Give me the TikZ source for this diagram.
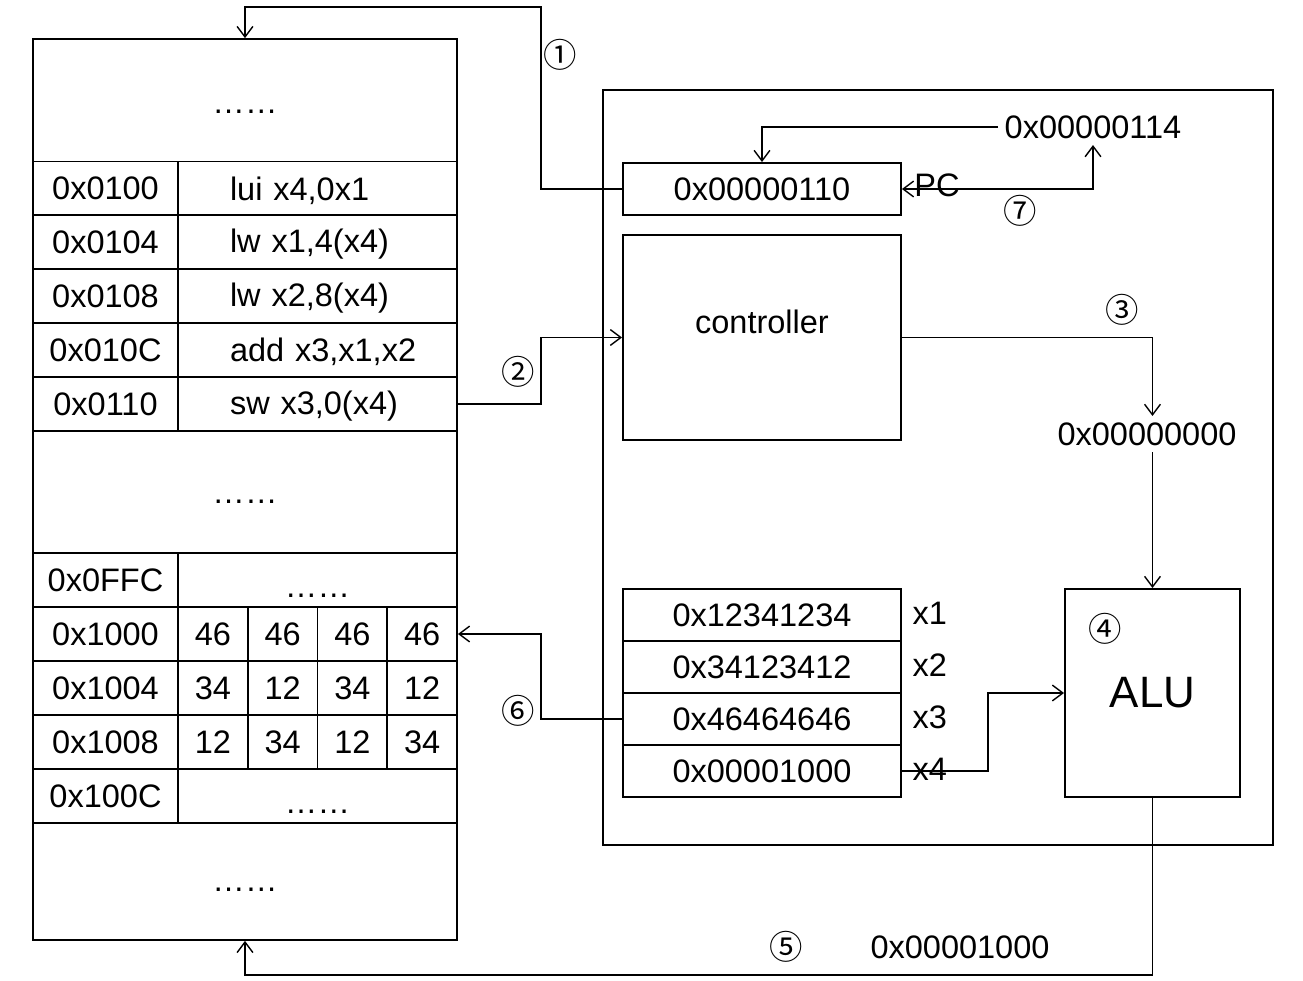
\documentclass[tikz,border=0pt]{standalone}
\usepackage{fontspec}
\setmainfont{Liberation Sans}
\newfontfamily\circfont{Noto Sans CJK SC}
\usepackage{tikz}
\usetikzlibrary{arrows.meta}

\begin{document}
\begin{tikzpicture}
  [x=0.02cm,y=-0.02cm,line width=0.8pt,>={Straight Barb[length=6pt,width=9pt]},
   every node/.style={font=\fontsize{18.5}{22}\selectfont},
   cell/.style={draw,line width=1.1pt,inner sep=0pt,minimum height=1.08cm},
   reg/.style={draw,line width=1.1pt,inner sep=0pt,minimum width=5.56cm,minimum height=1.04cm},
   num/.style={font=\circfont\fontsize{19}{22}\selectfont,inner sep=1pt}]

  \useasboundingbox (0,0) rectangle (1303,981);

  \node[draw,line width=1.1pt,minimum width=8.48cm,minimum height=18.02cm] (mem) at (245,489.5) {};
  \node (dots1) at (245,112) {……};
  \node (dots2) at (245,502) {……};
  \node (dots3) at (245,890) {……};
  \foreach \y/\addr/\ins [count=\i] in {188.5/0x0100/{lui x4,0x1},242/0x0104/{lw x1,4(x4)},296/0x0108/{lw x2,8(x4)},350/0x010C/{add x3,x1,x2},404/0x0110/{sw x3,0(x4)}}
  {
    \node[cell,minimum width=2.9cm] (a\i) at (105.5,\y) {\addr};
    \node[cell,minimum width=5.58cm,text width=4.1cm,text height=0.55cm] (c\i) at (317.5,\y) {\hspace*{0.3cm}\ins};
  }
  \node[cell,minimum width=2.9cm] (a6) at (105.5,580) {0x0FFC};
  \node[cell,minimum width=5.58cm,text height=0.68cm,text depth=0pt] (c6) at (317.5,580) {……};
  \foreach \y/\addr/\bytes [count=\i] in {634/0x1000/{46,46,46,46},688/0x1004/{34,12,34,12},742/0x1008/{12,34,12,34}}
  {
    \node[cell,minimum width=2.9cm] (m\i) at (105.5,\y) {\addr};
    \foreach \b [count=\j] in \bytes
      \node[cell,minimum width=1.395cm] (d\i\j) at (143.125+69.75*\j,\y) {\b};
  }
  \node[cell,minimum width=2.9cm] (a7) at (105.5,796) {0x100C};
  \node[cell,minimum width=5.58cm,text height=0.68cm,text depth=0pt] (c7) at (317.5,796) {……};

  \node[draw,line width=1.1pt,minimum width=13.4cm,minimum height=15.1cm] (cpu) at (938,467.5) {};
  \node[reg] (pc) at (762,189) {0x00000110};
  \node (pclbl) at (937,185) {PC};
  \node[reg,minimum height=4.1cm,text height=0.45cm,text depth=0.6cm] (ctrl) at (762,337.5) {controller};
  \foreach \y/\val [count=\i] in {615/0x12341234,667/0x34123412,719/0x46464646,771/0x00001000}
  {
    \node[reg] (r\i) at (762,\y) {\val};
    \node[anchor=west] (x\i) at (906,\y-2) {x\i};
  }
  \node[draw,line width=1.1pt,minimum width=3.5cm,minimum height=4.16cm,font=\fontsize{25}{30}\selectfont] (alu) at (1152.5,693) {ALU};

  \node (v114) at (1093,127) {0x00000114};
  \node (v0) at (1147,434) {0x00000000};
  \node (v1000) at (960,947) {0x00001000};

  \node[num] (s1) at (560,55) {①};
  \node[num] (s2) at (518,372) {②};
  \node[num] (s3) at (1122,310) {③};
  \node[num] (s4) at (1105,629) {④};
  \node[num] (s5) at (786,947) {⑤};
  \node[num] (s6) at (518,711) {⑥};
  \node[num] (s7) at (1020,211) {⑦};

  \draw[->] (pc.west) -| (541,7) -| (mem.north);
  \draw[->] (c5.east) -| (541,337.5) -- (ctrl.west);
  \draw[->] (ctrl.east) -| (alu.north |- v0.north);
  \draw[->] (alu.north |- v0.south) -- (alu.north);
  \draw[->] (alu.south) -- (alu.south |- 0,975) -| (mem.south);
  \draw[->] (r3.west) -| (541,634) -- (d14.east);
  \draw[->] (v114.west) -| (pc.north);
  \draw[<->] (pc.east) -| (v114.south);
  \draw[->] (r4.east) -| (988,693) -- (alu.west);
\end{tikzpicture}
\end{document}
